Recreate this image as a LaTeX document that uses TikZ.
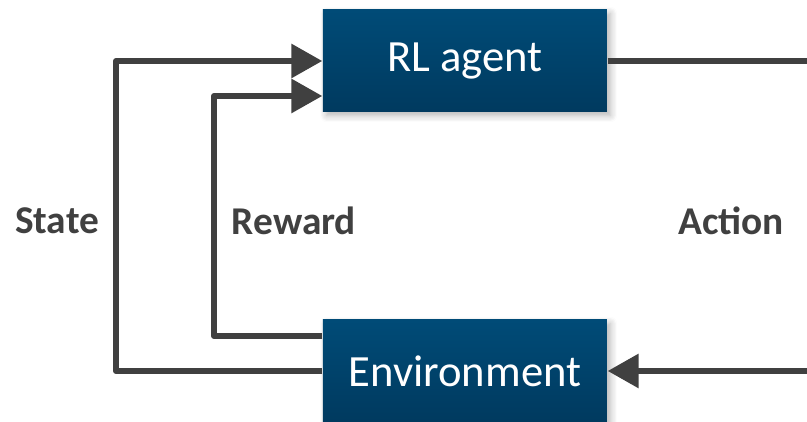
\documentclass[tikz,border=0pt]{standalone}
\usepackage{fontspec}
\setmainfont{Carlito}
\usetikzlibrary{arrows.meta,shadows.blur}
\definecolor{boxtop}{HTML}{004B77}
\definecolor{boxbot}{HTML}{003A5F}
\definecolor{linegray}{HTML}{404040}
\begin{document}
\begin{tikzpicture}[
  block/.style={rectangle, minimum width=2.84cm, minimum height=1.02cm,
    top color=boxtop, bottom color=boxbot, text=white,
    font=\fontsize{12.7}{15}\selectfont,
    blur shadow={shadow xshift=1pt, shadow yshift=-1pt, shadow blur steps=6, shadow opacity=30}},
  link/.style={draw=linegray, line width=1.7pt, line join=round},
  tip/.style={-{Triangle[length=8.8pt, width=9.4pt]}},
  lbl/.style={text=linegray, font=\fontsize{11.2}{13}\selectfont\bfseries}
]
\clip (0,0) rectangle (8.07,4.22);
\node[block] (agent) at (4.65,3.61) {RL agent};
\node[block] (env) at (4.65,0.51) {Environment};
% state loop
\coordinate (S) at (1.16,3.61);
\draw[link, tip] (env.west) -| (S) -- (agent.west);
% reward loop
\coordinate (R) at (2.14,3.26);
\draw[link, tip] ([yshift=0.35cm]env.west) -| (R) -- ([yshift=-0.35cm]agent.west);
% action loop, turns outside the frame
\coordinate (A) at (8.4,3.61);
\draw[link, tip] (agent.east) -- (A) |- (env.east);
\node[lbl] (state) at (0.57,2.01) {State};
\node[lbl] (reward) at (2.94,2.01) {Reward};
\node[lbl] (action) at (7.31,2.01) {Action};
\end{tikzpicture}
\end{document}
